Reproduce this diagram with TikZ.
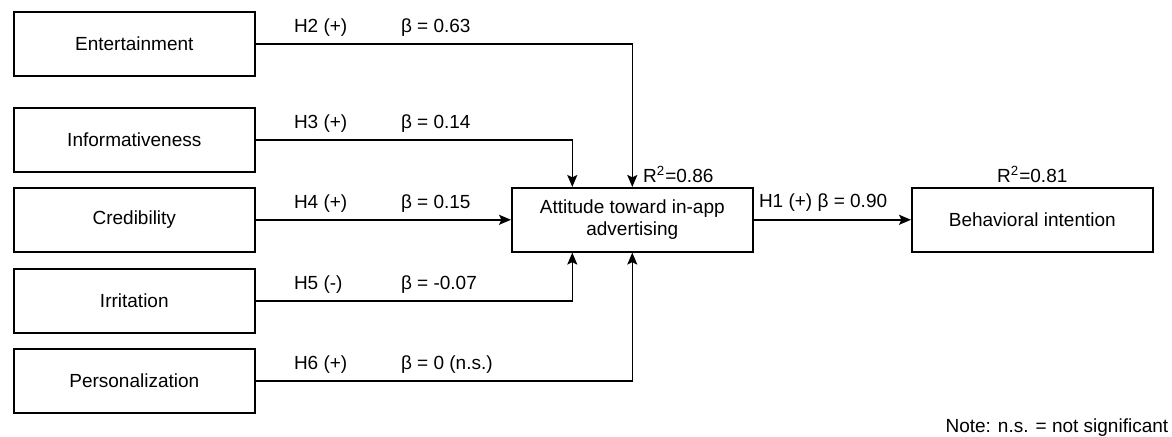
\documentclass[tikz,border=0pt]{standalone}
\usepackage{fontspec}
\setmainfont{Liberation Sans}
\usepackage{tikz}
\usetikzlibrary{arrows.meta,positioning}
\tikzset{
    factorbox/.style={
        draw,
        line width=0.8pt,
        align=center,
        font=\fontsize{9.5}{11}\selectfont,
        minimum width=120.5pt,
        minimum height=32pt,
        inner sep=0pt
    },
    effect/.style={
        -{Stealth[length=6pt,width=5pt,inset=1.2pt]},
        line width=0.8pt
    },
    pathlabel/.style={
        anchor=base west,
        inner sep=0pt,
        font=\fontsize{9.5}{11}\selectfont
    }
}

\begin{document}
\begin{tikzpicture}[node distance=7.2pt and 127.7pt]
        \node[factorbox] (ent) {Entertainment};
        \node[factorbox, below=15.2pt of ent] (inf) {Informativeness};
        \node[factorbox, below=of inf] (cred) {Credibility};
        \node[factorbox, below=7.7pt of cred] (irr) {Irritation};
        \node[factorbox, below=of irr] (pers) {Personalization};

        \node[factorbox, right=of cred] (att) {Attitude toward in-app\\advertising};
        \node[factorbox, right=78.7pt of att] (beh) {Behavioral intention};

        \draw[effect] (ent.east) -| (att.north);
        \draw[effect] (inf.east) -| ([xshift=-30pt]att.north);
        \draw[effect] (cred.east) -- (att.west);
        \draw[effect] (irr.east) -| ([xshift=-30pt]att.south);
        \draw[effect] (pers.east) -| (att.south);
        \draw[effect] (att.east) -- (beh.west);

        \node[pathlabel] (h2) at ([shift={(19pt,5.5pt)}]ent.east) {H2 (+)};
        \node[pathlabel] (b2) at ([shift={(72.5pt,5.5pt)}]ent.east) {β = 0.63};
        \node[pathlabel] (h3) at ([shift={(19pt,5.5pt)}]inf.east) {H3 (+)};
        \node[pathlabel] (b3) at ([shift={(72.5pt,5.5pt)}]inf.east) {β = 0.14};
        \node[pathlabel] (h4) at ([shift={(19pt,5.5pt)}]cred.east) {H4 (+)};
        \node[pathlabel] (b4) at ([shift={(72.5pt,5.5pt)}]cred.east) {β = 0.15};
        \node[pathlabel] (h5) at ([shift={(19pt,5.5pt)}]irr.east) {H5 (-)};
        \node[pathlabel] (b5) at ([shift={(72.5pt,5.5pt)}]irr.east) {β = -0.07};
        \node[pathlabel] (h6) at ([shift={(19pt,5.5pt)}]pers.east) {H6 (+)};
        \node[pathlabel] (b6) at ([shift={(72.5pt,5.5pt)}]pers.east) {β = 0 (n.s.)};
        \node[pathlabel] (h1) at ([shift={(2.5pt,6pt)}]att.east) {H1 (+) β = 0.90};

        \node[pathlabel] (r2att) at ([shift={(5.25pt,2pt)}]att.north) {R\textsuperscript{2}=0.86};
        \node[pathlabel, anchor=base] (r2beh) at ([yshift=2pt]beh.north) {R\textsuperscript{2}=0.81};

        \node[pathlabel, anchor=base east] (note) at ([shift={(7.5pt,-90pt)}]beh.south east) {Note: n.s. = not significant};

        \useasboundingbox ([shift={(-6.5pt,5.5pt)}]ent.north west) rectangle ++(586pt,-218.5pt);
    \end{tikzpicture}
\end{document}
